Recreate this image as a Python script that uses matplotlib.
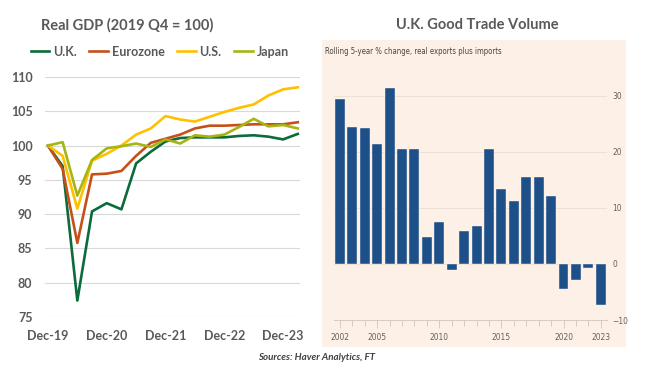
import matplotlib
matplotlib.use("Agg")
import matplotlib.pyplot as plt
from matplotlib import font_manager

plt.rcParams['font.family'] = ['Lato', 'DejaVu Sans']

# ---- left chart data: real GDP, quarterly Q4 2019 .. Q1 2024
quarters = list(range(18))
quarter_ticks = [0, 4, 8, 12, 16]
quarter_labels = ['Dec-19', 'Dec-20', 'Dec-21', 'Dec-22', 'Dec-23']
uk = [100, 97.0, 77.4, 90.4, 91.6, 90.7, 97.4, 99.1, 100.6, 101.1,
      101.2, 101.2, 101.2, 101.4, 101.5, 101.3, 100.9, 101.7]
eurozone = [100, 96.6, 85.8, 95.8, 95.9, 96.3, 98.5, 100.4, 101.0, 101.6,
            102.5, 102.9, 102.9, 103.0, 103.1, 103.1, 103.1, 103.4]
us = [100, 98.5, 90.8, 97.8, 98.8, 100.0, 101.6, 102.5, 104.3, 103.8,
      103.5, 104.2, 104.9, 105.5, 106.0, 107.3, 108.2, 108.5]
japan = [100, 100.5, 92.7, 97.9, 99.6, 99.9, 100.3, 99.8, 100.9, 100.3,
         101.5, 101.3, 101.6, 102.7, 103.9, 102.8, 103.0, 102.5]
series_names = ['U.K.', 'Eurozone', 'U.S.', 'Japan']

# ---- right chart data: UK goods trade volume, rolling 5-year % change
years = list(range(2002, 2024))
trade = [29.5, 24.4, 24.2, 21.5, 31.4, 20.5, 20.5, 4.8, 7.5, -1.0, 5.8,
         6.7, 20.5, 13.4, 11.2, 15.6, 15.6, 12.2, -4.5, -2.8, -0.8, -7.4]
year_ticks = [2002, 2005, 2010, 2015, 2020, 2023]

W, H = 650, 376
fig = plt.figure(figsize=(6.5, 3.76), dpi=100)
fig.patch.set_facecolor('white')


def rect(x0, y0, x1, y1):
    # pixel box (top-left origin) -> figure fraction
    return [x0 / W, 1 - y1 / H, (x1 - x0) / W, (y1 - y0) / H]


# narrow font for the FT panel, if there is one
names = {f.name for f in font_manager.fontManager.ttflist}
narrow = 'Liberation Sans Narrow' if 'Liberation Sans Narrow' in names else 'DejaVu Sans'
narrow_kw = dict(family=[narrow, 'DejaVu Sans'], fontstretch='condensed')

grey = '#595959'

# ---------------- left: Real GDP ----------------
ax = fig.add_axes(rect(45, 77, 300, 317))
colors = ['#0B6B3A', '#C5511A', '#FFC000', '#A6B514']
for vals, name, c in zip([uk, eurozone, us, japan], series_names, colors):
    ax.plot(quarters, vals, color=c, lw=1.9, label=name)
ax.set_xlim(-0.2, 17.15)
ax.set_ylim(75, 110)
ax.set_yticks([75, 80, 85, 90, 95, 100, 105, 110])
ax.set_xticks(quarter_ticks)
ax.set_xticklabels(quarter_labels)
ax.grid(axis='y', color='#D9D9D9', lw=0.8)
ax.set_axisbelow(True)
for s in ax.spines.values():
    s.set_visible(False)
ax.tick_params(length=0, labelsize=9, labelcolor=grey)
ax.tick_params(axis='x', pad=9)
ax.tick_params(axis='y', pad=9)
for t in ax.get_xticklabels() + ax.get_yticklabels():
    t.set_fontweight('bold')
leg = ax.legend(loc='center', bbox_to_anchor=(0.45, 1.105), ncol=4,
                frameon=False, handlelength=1.5, handletextpad=0.3,
                columnspacing=1.0, fontsize=9)
for t in leg.get_texts():
    t.set_color(grey)
    t.set_fontweight('bold')
fig.text(127 / W, 1 - 25 / H, 'Real GDP (2019 Q4 = 100)', ha='center',
         va='center', fontsize=10.5, fontweight='bold', color=grey)

# ---------------- right: U.K. Good Trade Volume ----------------
fig.text(477 / W, 1 - 25 / H, 'U.K. Good Trade Volume', ha='center',
         va='center', fontsize=10.5, fontweight='bold', color=grey)

panel = fig.add_axes(rect(322, 40, 626, 347))
panel.set_facecolor('#FDF0E6')
panel.set_xticks([])
panel.set_yticks([])
for s in panel.spines.values():
    s.set_visible(False)
fig.text(325 / W, 1 - 52 / H,
         'Rolling 5-year % change, real exports plus imports',
         ha='left', va='center', fontsize=5.6, color='#4A4643', **narrow_kw)

bx = fig.add_axes(rect(333.7, 78, 607, 320))
bx.patch.set_alpha(0)
bx.bar(years, trade, width=0.8, color='#1D5089', edgecolor='#FDF0E6', lw=0.3)
bx.set_xlim(2001.5, 2023.5)
bx.set_ylim(-10, 33.2)
bx.yaxis.tick_right()
bx.set_yticks([-10, 0, 10, 20, 30])
bx.set_xticks(year_ticks)
bx.set_xticks(years, minor=True)
bx.grid(axis='y', color='#EDE0D4', lw=0.7)
bx.set_axisbelow(True)
for k in ['top', 'left', 'right']:
    bx.spines[k].set_visible(False)
bx.spines['bottom'].set_color('#D6CBC1')
bx.spines['bottom'].set_linewidth(0.7)
bx.tick_params(axis='x', which='both', color='#D6CBC1', width=0.7,
               labelsize=6, labelcolor='#66605C', pad=3)
bx.tick_params(axis='x', which='major', length=6)
bx.tick_params(axis='x', which='minor', length=4)
bx.tick_params(axis='y', length=0, labelsize=6, labelcolor='#66605C', pad=4)
for t in bx.get_xticklabels() + bx.get_yticklabels():
    t.set_family(narrow_kw['family'])
    t.set_fontstretch('condensed')

fig.text(317 / W, 1 - 358 / H, 'Sources: Haver Analytics, FT', ha='center',
         va='center', fontsize=7, fontweight='bold', style='italic',
         color='#404040')

fig.savefig('out.png', dpi=100, facecolor='white')
